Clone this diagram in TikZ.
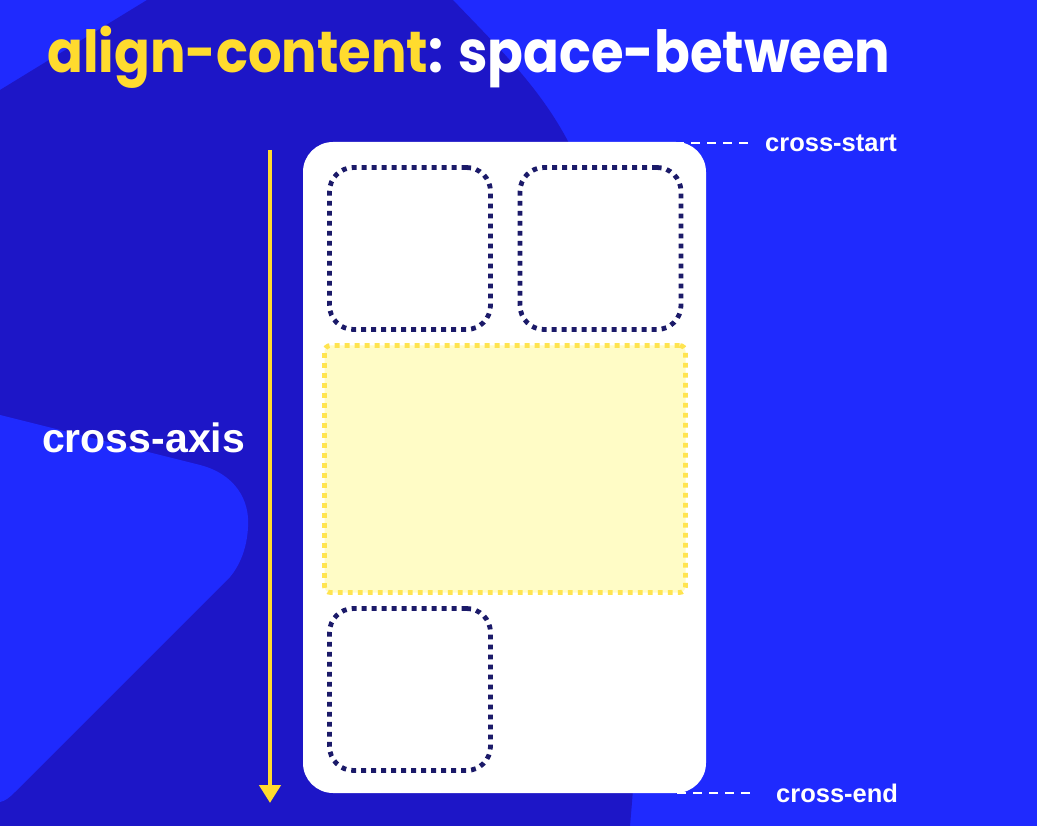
\documentclass[tikz,border=0pt]{standalone}
\usepackage{fontspec}
\usetikzlibrary{arrows.meta}
\newfontfamily\titlefont{Poppins}[FakeStretch=0.91]
\newfontfamily\labelfont{Liberation Sans}
\definecolor{bgbright}{RGB}{31,42,254}
\definecolor{bgdark}{RGB}{29,22,199}
\definecolor{navydot}{RGB}{27,26,105}
\definecolor{accent}{RGB}{255,219,46}
\definecolor{paleyellow}{RGB}{255,252,198}
\definecolor{dotyellow}{RGB}{255,228,80}
\tikzset{
  container/.style={fill=white, rounded corners=30pt, minimum width=403pt, minimum height=651pt, inner sep=0pt},
  item/.style={draw=navydot, fill=white, line width=4.8pt, dash pattern=on 4.8pt off 5.2pt,
    rounded corners=24pt, minimum width=161pt, minimum height=162pt, inner sep=0pt},
  bigitem/.style={draw=dotyellow, fill=paleyellow, line width=4.8pt, dash pattern=on 4.8pt off 5.2pt,
    rounded corners=6pt, minimum width=361pt, minimum height=247pt, inner sep=0pt},
  guide/.style={draw=white, line width=2.8pt, dash pattern=on 9pt off 7pt},
  axisarrow/.style={draw=accent, line width=4.5pt, -{Triangle[length=18pt,width=21pt]}},
  edgelabel/.style={text=white, font=\labelfont\bfseries\fontsize{25.5}{28}\selectfont, anchor=base west, inner sep=0pt},
}
\begin{document}
\begin{tikzpicture}[x=1pt, y=-1pt]
  \useasboundingbox (0,0) rectangle (1037,826);
  % backdrop
  \fill[bgbright] (0,0) rectangle (1037,826);
  \fill[bgdark] (147,0) -- (453,0) .. controls (510,60) and (565,110) .. (592,200)
    .. controls (640,360) and (650,600) .. (630,826) -- (0,826) -- (0,90) -- cycle;
  \fill[bgbright] (0,415) -- (200,465) .. controls (235,474) and (250,500) .. (248,527)
    .. controls (247,548) and (240,565) .. (230,577) -- (15,792)
    .. controls (9,798) and (5,801) .. (0,802) -- cycle;

  % title
  \node[anchor=base west, inner sep=0pt, font=\titlefont\bfseries\fontsize{58}{64}\selectfont] (title) at (47,73)
    {\textcolor{accent}{align-content}\textcolor{white}{: space-between}};

  % cross-axis arrow and label
  \coordinate (axistop) at (270,150);
  \coordinate (axisend) at (270,803);
  \draw[axisarrow] (axistop) -- (axisend);
  \node[text=white, font=\labelfont\bfseries\fontsize{41}{46}\selectfont, anchor=base west, inner sep=0pt] (axislabel) at (42,453) {cross-axis};

  % flex container and its items
  \node[container] (box) at (504.5,467.5) {};
  \node[item] (itemA) at (410,248.5) {};
  \node[item] (itemB) at (600.5,248.5) {};
  \node[bigitem] (itemC) at (505,469) {};
  \node[item] (itemD) at (410,689.5) {};

  % cross-start / cross-end markers
  \node[edgelabel] (startlabel) at (765,152) {cross-start};
  \node[edgelabel] (endlabel) at (776,802) {cross-end};
  \coordinate (startA) at (675,143);
  \coordinate (startB) at (751,143);
  \coordinate (endA) at (677,793);
  \coordinate (endB) at (751,793);
  \draw[guide] (startA) -- (startB);
  \draw[guide] (endA) -- (endB);
\end{tikzpicture}
\end{document}
